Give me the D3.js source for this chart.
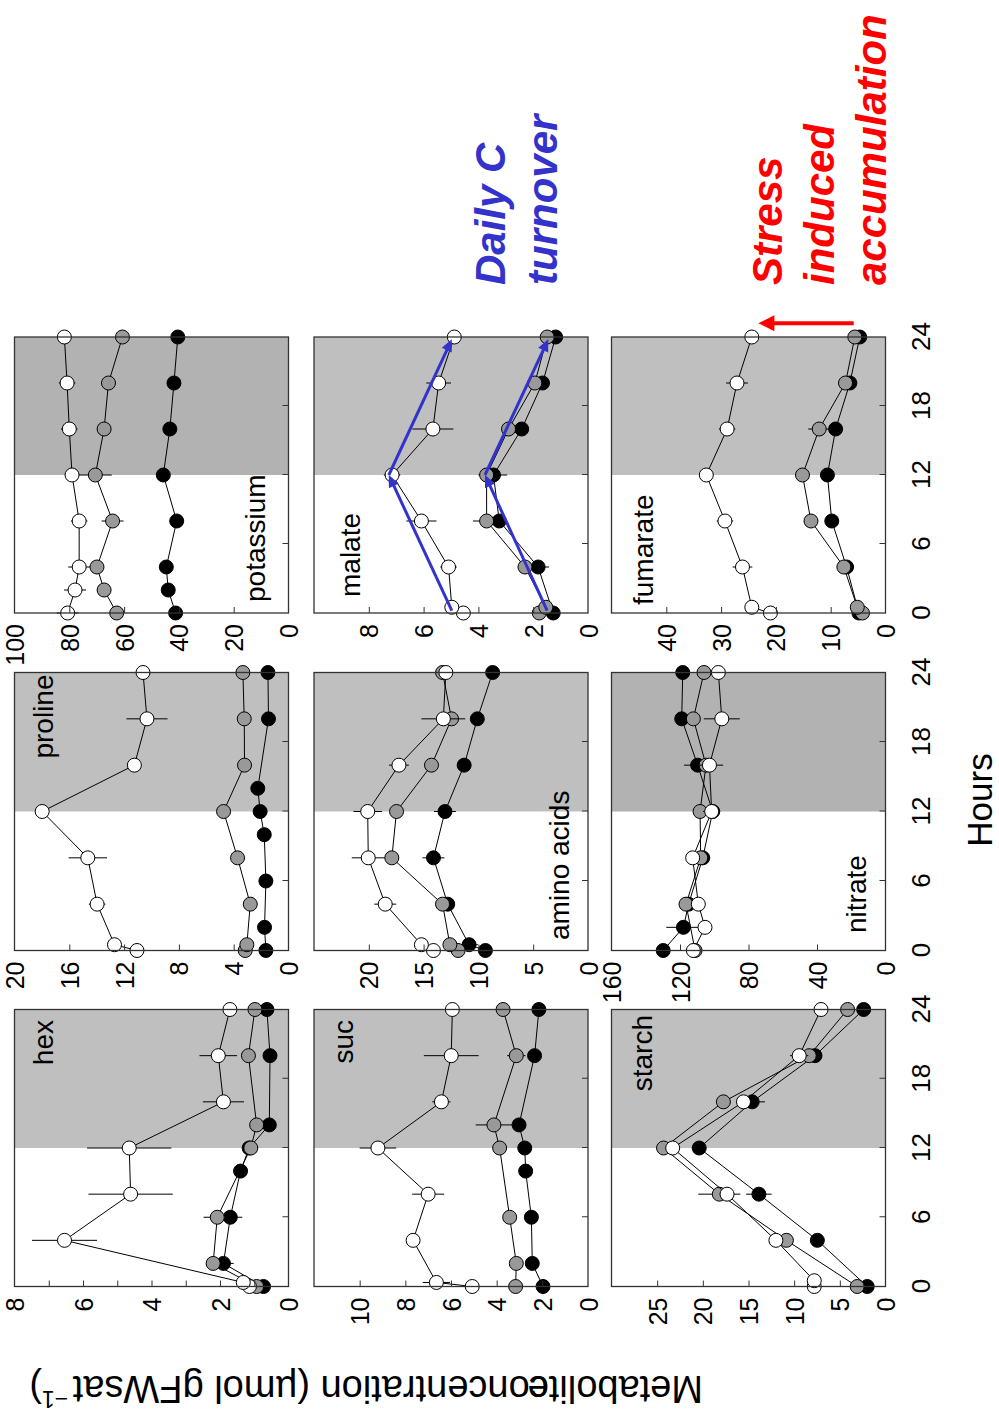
<!DOCTYPE html>
<html><head><meta charset="utf-8">
<script src="https://cdn.jsdelivr.net/npm/d3@7"></script>
<style>body{margin:0;background:#fff}svg{display:block}</style>
</head><body><svg id="c" width="999" height="1418"></svg>
<script>
// ---- data: [hour, value, error] ----
const hexBlack = [[0,0.73,0.05],[2,1.9,0.3],[6,1.7,0.35],[10,1.4,0.15],[12,1.15,0.1],[14,0.56,0.15],[20,0.54,0.08],[24,0.63,0.08]];
const hexGray  = [[0,0.93,0.05],[2,2.2,0.1],[6,2.08,0.4],[12,1.1,0.1],[14,0.93,0.1],[20,1.17,0.2],[24,0.98,0.1]];
const hexWhite = [[0,1.14,0.05],[0.35,1.32,0.05],[4,6.54,0.95],[8,4.61,1.23],[12,4.65,1.23],[16,1.9,0.6],[20,2.05,0.55],[24,1.71,0.4]];

const sucBlack = [[0,1.97,0.1],[2,2.44,0.1],[6,2.48,0.15],[10,2.73,0.1],[12,2.77,0.1],[14,3.02,0.1],[20,2.34,0.1],[24,2.15,0.1]];
const sucGray  = [[0,3.17,0.3],[2,3.14,0.2],[6,3.43,0.1],[12,3.87,0.1],[14,4.12,0.8],[20,3.14,0.4],[24,3.72,0.1]];
const sucWhite = [[0,5.07,0.1],[0.35,6.64,0.6],[4,7.66,0.3],[8,7.0,0.7],[12,9.2,0.8],[16,6.42,0.4],[20,5.99,1.2],[24,5.94,0.1]];

const starchBlack = [[0,2.0,0.3],[4,7.46,0.4],[8,13.86,1.4],[12,20.4,0.8],[16,14.6,1.4],[20,7.72,0.3],[24,2.39,0.3]];
const starchGray  = [[0,3.1,0.3],[4,10.85,0.3],[8,18.2,2.3],[12,24.3,0.3],[16,17.75,0.8],[20,8.35,0.4],[24,4.15,0.3]];
const starchWhite = [[0,7.8,0.2],[0.5,7.8,0.2],[4,12.0,0.3],[8,17.35,0.8],[12,23.3,0.3],[16,15.55,0.5],[20,9.45,1.0],[24,7.06,0.3]];

const prolineBlack = [[0,1.65,0.2],[2,1.75,0.1],[6,1.65,0.1],[10,1.77,0.1],[12,2.07,0.2],[14,2.24,0.2],[20,1.46,0.2],[24,1.5,0.2]];
const prolineGray  = [[0,3.16,0.1],[0.5,3.04,0.1],[4,2.79,0.1],[8,3.72,0.1],[12,4.74,0.2],[16,3.21,0.1],[20,3.23,0.1],[24,3.33,0.1]];
const prolineWhite = [[0,11.06,0.2],[0.5,12.7,0.5],[4,13.97,0.6],[8,14.65,1.4],[12,17.98,0.5],[16,11.25,0.3],[20,10.33,1.5],[24,10.62,1.0]];

const aminoBlack = [[0,9.36,0.2],[0.5,10.85,0.8],[4,12.8,0.3],[8,14.1,1.0],[12,13.05,1.0],[16,11.3,0.2],[20,10.1,0.2],[24,8.7,0.2]];
const aminoGray  = [[0,11.85,0.2],[0.5,12.6,0.4],[4,13.27,0.3],[8,17.9,0.2],[12,17.47,0.2],[16,14.28,0.2],[20,12.45,0.5],[24,13.27,0.5]];
const aminoWhite = [[0,14.1,0.4],[0.5,15.2,0.5],[4,18.5,1.0],[8,20.05,1.5],[12,20.1,1.3],[16,17.25,0.9],[20,13.2,2.0],[24,12.97,0.4]];

const nitrateBlack = [[0,129.8,6.6],[2,118,10],[4,115,3],[8,106.7,4],[12,100.9,3],[16,109.7,8],[20,119,3],[24,118.4,12]];
const nitrateGray  = [[0,111.2,3],[4,116.5,3],[8,107.9,3],[12,108.3,3],[16,104.8,3],[20,112.2,3],[24,106,3]];
const nitrateWhite = [[0,112.2,5],[2,105.4,3],[4,109.3,3],[8,112.6,3],[12,101.5,5],[16,102.8,8],[20,95.6,10.5],[24,97.6,7]];

const potassiumBlack = [[0,41.2,0.5],[2,43.9,0.5],[4,44.6,0.5],[8,40.8,0.5],[12,45.7,0.8],[16,43.3,0.5],[20,41.8,0.5],[24,40.4,1.5]];
const potassiumGray  = [[0,62.7,0.5],[2,67.3,0.5],[4,69.9,0.5],[8,64.2,4],[12,70.5,6],[16,67.3,0.5],[20,65.7,0.5],[24,60.6,0.5]];
const potassiumWhite = [[0,80.6,4],[2,77.9,4],[4,76.4,4],[8,76.4,3],[12,79.0,0.5],[16,80.0,3],[20,80.8,3],[24,81.8,1.5]];

const malateBlack = [[0,1.27,0.1],[4,1.82,0.4],[8,3.24,0.1],[12,3.45,0.5],[16,2.42,0.1],[20,1.66,0.1],[24,1.18,0.1]];
const malateGray  = [[0,1.78,0.1],[0.5,1.54,0.1],[4,2.3,0.1],[8,3.7,0.5],[12,3.7,0.3],[16,2.9,0.1],[20,1.94,0.1],[24,1.49,0.1]];
const malateWhite = [[0,4.55,0.1],[0.5,4.97,0.1],[4,5.09,0.3],[8,6.08,0.55],[12,7.15,0.3],[16,5.66,0.75],[20,5.45,0.45],[24,4.88,0.1]];

const fumarateBlack = [[0,4.85,0.3],[4,7.1,1.0],[8,9.8,0.3],[12,10.6,0.3],[16,9.1,0.3],[20,6.5,0.3],[24,4.7,0.3]];
const fumarateGray  = [[0,4.2,0.3],[0.5,5.15,0.3],[4,7.6,0.3],[8,13.6,0.3],[12,15.15,0.3],[16,12.1,2.0],[20,7.3,0.3],[24,5.6,0.3]];
const fumarateWhite = [[0,21.0,0.3],[0.5,24.4,0.3],[4,26.1,1.8],[8,29.3,1.5],[12,32.7,0.5],[16,28.9,1.5],[20,27.1,2.0],[24,24.4,0.3]];

// axis definitions
const hourTicks = [6,12,18];
const hourLabels = [0,6,12,18,24];
const panelNames = ["hex","proline","potassium","suc","amino acids","malate","starch","nitrate","fumarate"];
const valueMax   = [8,20,100,12,25,10,30,160,50];
const valueTicks = [[1,2,3,4,5,6,7],[4,8,12,16],[20,40,60,80],[2,4,6,8,10],[5,10,15,20],[2,4,6,8],[5,10,15,20,25],[40,80,120],[10,20,30,40]];
const valueLabels= [[0,2,4,6,8],[0,4,8,12,16,20],[0,20,40,60,80,100],[0,2,4,6,8,10],[0,5,10,15,20],[0,2,4,6,8],[0,5,10,15,20,25],[0,40,80,120,160],[0,10,20,30,40]];
const seriesData = [
  [hexBlack,hexGray,hexWhite],[prolineBlack,prolineGray,prolineWhite],[potassiumBlack,potassiumGray,potassiumWhite],
  [sucBlack,sucGray,sucWhite],[aminoBlack,aminoGray,aminoWhite],[malateBlack,malateGray,malateWhite],
  [starchBlack,starchGray,starchWhite],[nitrateBlack,nitrateGray,nitrateWhite],[fumarateBlack,fumarateGray,fumarateWhite]
];
// annotation arrows in data space (malate: [hour,value] chains; fumarate: red arrow)
const malateArrowUpper = [[0.2,4.97],[12,7.27],[23.8,4.97]];
const malateArrowLower = [[0.2,1.49],[12,3.76],[23.8,1.45]];
const fumarateArrow = [[25.2,5.8],[25.2,23.2]];

// ---- layout ----
const FONT = "'Liberation Sans', Arial, Helvetica, sans-serif";
const colX = [131.5, 467.5, 805], colW = [277, 278, 276];
const rowY = [14.5, 314, 611.5], rowH = 274;
const shadeLight = "#bfbfbf", shadeDark = "#b2b2b2";
const seriesFill = ["#000","#999","#fff"];
// label placement: [anchor, ref('l'|'r'), dx, ref('t'|'b'), dy]
const labelPlace = [
  ["end","r",-10.5,"t",38.5],["end","r",-2,"t",38.5],["start","l",11,"b",-23.5],
  ["end","r",-10.5,"t",39],["start","l",10.5,"b",-19.5],["start","l",16,"t",46],
  ["end","r",-5.5,"t",40.5],["start","l",17.5,"b",-19.5],["start","l",8,"t",41]
];

const svg = d3.select("#c");
const root = svg.append("g").attr("transform","translate(0,1418) rotate(-90)");
const scales = {};

panelNames.forEach((name, i) => {
  const r = Math.floor(i/3), c = i%3;
  const x0 = colX[c], w = colW[c], y0 = rowY[r];
  const x = d3.scaleLinear().domain([0,24]).range([x0, x0+w]);
  const y = d3.scaleLinear().domain([0,valueMax[i]]).range([y0+rowH, y0]);
  scales[name] = {x,y};
  const g = root.append("g");
  g.append("rect").attr("x",x(12)).attr("y",y0).attr("width",x(24)-x(12)).attr("height",rowH)
    .attr("fill", (name==="potassium"||name==="nitrate") ? shadeDark : shadeLight);

  seriesData[i].forEach((d, k) => {
    g.append("path").datum(d)
      .attr("d", d3.line().x(e=>x(e[0])).y(e=>y(e[1])))
      .attr("fill","none").attr("stroke","#000").attr("stroke-width",1);
    g.append("g").selectAll("line").data(d).join("line")
      .attr("x1",e=>x(e[0])).attr("x2",e=>x(e[0]))
      .attr("y1",e=>y(e[1]-e[2])).attr("y2",e=>y(e[1]+e[2]))
      .attr("stroke","#000").attr("stroke-width",1);
    g.append("g").selectAll("circle").data(d).join("circle")
      .attr("cx",e=>x(e[0])).attr("cy",e=>y(e[1])).attr("r",7)
      .attr("fill",seriesFill[k]).attr("stroke","#000").attr("stroke-width",1);
  });

  g.append("rect").attr("x",x0).attr("y",y0).attr("width",w).attr("height",rowH)
    .attr("fill","none").attr("stroke","#333").attr("stroke-width",1.3);

  // inner ticks
  g.append("g").attr("transform",`translate(${x0},0)`)
    .call(d3.axisLeft(y).tickValues(valueTicks[i]).tickSizeInner(-6).tickSizeOuter(0).tickFormat(""))
    .call(a=>a.select(".domain").remove())
    .call(a=>a.selectAll("line").attr("stroke","#333"));
  g.append("g").attr("transform",`translate(0,${y0+rowH})`)
    .call(d3.axisBottom(x).tickValues(hourTicks).tickSizeInner(-6).tickSizeOuter(0).tickFormat(""))
    .call(a=>a.select(".domain").remove())
    .call(a=>a.selectAll("line").attr("stroke","#333"));
  // value labels
  g.append("g").attr("transform",`translate(${x0},0)`)
    .call(d3.axisLeft(y).tickValues(valueLabels[i]).tickSize(0).tickPadding(11).tickFormat(d3.format("d")))
    .call(a=>a.select(".domain").remove())
    .call(a=>a.selectAll("text").attr("font-family",FONT).attr("font-size",25).attr("fill","#000").attr("dy","0.36em"));
  if (r === 2) {
    g.append("g").attr("transform",`translate(0,${y0+rowH})`)
      .call(d3.axisBottom(x).tickValues(hourLabels).tickSize(0).tickPadding(26).tickFormat(d3.format("d")))
      .call(a=>a.select(".domain").remove())
      .call(a=>a.selectAll("text").attr("font-family",FONT).attr("font-size",26).attr("fill","#000"));
  }
  // panel label
  const lp = labelPlace[i];
  g.append("text").text(name)
    .attr("x", (lp[1]==="r" ? x0+w : x0) + lp[2])
    .attr("y", (lp[3]==="t" ? y0 : y0+rowH) + lp[4])
    .attr("text-anchor", lp[0]).attr("font-family",FONT).attr("font-size",28).attr("fill","#000");
});

// arrows
function arrow(g, x1,y1,x2,y2,color,lw,hl,hw){
  const dx=x2-x1, dy=y2-y1, L=Math.hypot(dx,dy), ux=dx/L, uy=dy/L;
  const bx=x2-ux*hl, by=y2-uy*hl;
  g.append("line").attr("x1",x1).attr("y1",y1).attr("x2",bx+ux).attr("y2",by+uy)
    .attr("stroke",color).attr("stroke-width",lw);
  g.append("path").attr("d",`M${x2},${y2}L${bx-uy*hw/2},${by+ux*hw/2}L${bx+uy*hw/2},${by-ux*hw/2}Z`).attr("fill",color);
}
const BLUE = "#3333cc", RED = "#ff0000";
const ag = root.append("g");
[malateArrowUpper, malateArrowLower].forEach(ch => {
  const {x,y} = scales["malate"];
  for (let j=0;j<ch.length-1;j++){
    arrow(ag, x(ch[j][0]),y(ch[j][1]), x(ch[j+1][0]),y(ch[j+1][1]), BLUE, 3, 12, 11);
  }
});
{
  const {x,y} = scales["fumarate"];
  arrow(ag, x(fumarateArrow[0][0]),y(fumarateArrow[0][1]), x(fumarateArrow[1][0]),y(fumarateArrow[1][1]), RED, 4, 16, 16);
}

// annotation texts
function lines(arr, color, x, y0, step){
  arr.forEach((t,j)=>root.append("text").text(t).attr("x",x).attr("y",y0+j*step)
    .attr("font-family",FONT).attr("font-size",42).attr("font-weight","bold").attr("font-style","italic").attr("fill",color));
}
lines(["Daily C","turnover"], BLUE, 1133, 505, 52);
lines(["Stress","induced","accumulation"], RED, 1133, 782, 52);

// axis titles
root.append("text").text("Hours").attr("x",618).attr("y",992).attr("text-anchor","middle")
  .attr("font-family",FONT).attr("font-size",35).attr("fill","#000");
const yl = root.append("text").attr("transform","translate(42,703) rotate(-90)")
  .attr("font-family",FONT).attr("font-size",38).attr("fill","#000");
yl.append("tspan").text("Metabolite");
yl.append("tspan").attr("dx",-21).text("concentration (µmol gFWsat");
yl.append("tspan").attr("dy",-15).attr("font-size",23).text("\u2009\u22121");
yl.append("tspan").attr("dy",15).text(")");
</script></body></html>
